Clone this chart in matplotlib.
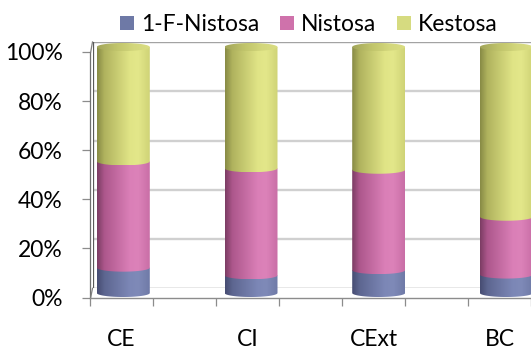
import numpy as np
import matplotlib
matplotlib.use("Agg")
import matplotlib.pyplot as plt
from matplotlib.colors import LinearSegmentedColormap
from matplotlib.path import Path
from matplotlib.patches import Patch
from matplotlib.lines import Line2D

# ---- data (percent of total per sample) ----
categories = ["CE", "CI", "CExt", "BC"]
series_names = ["1-F-Nistosa", "Nistosa", "Kestosa"]
fnistosa = [10.3, 7.2, 9.3, 7.5]
nistosa = [43.2, 43.5, 40.8, 23.5]
kestosa = [46.5, 49.3, 49.9, 69.0]
y_ticks = [0, 20, 40, 60, 80, 100]
y_labels = ["0%", "20%", "40%", "60%", "80%", "100%"]

# ---- styling ----
legend_colors = ["#6e79a6", "#cf72ab", "#d6db80"]
body_shades = [
    ["#464c72", "#5d6690", "#7c87b6", "#7f8ab8", "#6f7aa7"],
    ["#7b3c63", "#ad578c", "#da7fb7", "#dc82b9", "#c96ea6"],
    ["#878a45", "#b0b35e", "#e0e486", "#e3e78a", "#cfd376"],
]
top_shades = ["#a2a55a", "#bfc36a", "#d3d77c", "#dadd82"]
shade_stops = [0.0, 0.14, 0.62, 0.78, 1.0]

plt.rcParams["font.family"] = ["Lato", "DejaVu Sans"]
FS = 16.5

W, H = 531, 349
fig = plt.figure(figsize=(W / 100, H / 100), dpi=100)


def box(left, top, right, bottom):
    """Axes rectangle from pixel edges measured from the top-left corner."""
    return [left / W, 1 - bottom / H, (right - left) / W, (bottom - top) / H]


# ---- back wall with gridlines ----
axw = fig.add_axes(box(92.5, 42, 545, 288.3), zorder=0)
axw.set_xlim(0, 1)
axw.set_ylim(0, 100)
axw.axis("off")
for v in y_ticks[1:-1]:
    axw.axhline(v, color="#d0d0d0", lw=1.7)
axw.axhline(100, color="#a3a3a3", lw=1.0)
axw.axhline(0, color="#8c8c8c", lw=1.0)
axw.axvline(0, color="#5a5a5a", lw=0.9)

# side-wall edges joining the front axis to the back wall
for (xa, ya), (xb, yb) in [((90.7, 52.0), (92.5, 42.0)), ((90.7, 297.5), (92.5, 288.3))]:
    fig.add_artist(Line2D([xa / W, xb / W], [1 - ya / H, 1 - yb / H],
                          color="#7f7f7f", lw=0.9))

# ---- front axis: ticks and labels ----
axf = fig.add_axes(box(90, 52, 545, 297.5), zorder=1)
axf.patch.set_alpha(0)
for s in ("top", "right"):
    axf.spines[s].set_visible(False)
axf.spines["left"].set_color("#6f6f6f")
axf.spines["bottom"].set_color("#8c8c8c")
axf.spines["left"].set_linewidth(0.9)
axf.spines["bottom"].set_linewidth(1.0)
axf.set_yticks(y_ticks)
axf.set_yticklabels(y_labels, fontsize=FS)
axf.tick_params(axis="y", length=5.5, width=0.9, color="#8c8c8c", pad=14)
major = np.arange(-0.25, len(categories), 0.5)
axf.set_xticks(major)
axf.set_xticklabels([])
axf.tick_params(axis="x", which="major", length=6, width=0.9, color="#8c8c8c")
axf.set_xticks(np.arange(len(categories)), minor=True)
axf.set_xticklabels(categories, minor=True, fontsize=FS)
axf.tick_params(axis="x", which="minor", length=0, pad=23)
x_right = (545 - 90) / 126 - 0.25
axf.set_xlim(-0.25, x_right)
axf.set_ylim(0, 100)

# ---- cylinders ----
px_per_pct = (293 - 47) / 100
y_lo, y_hi = -5, 105
axb = fig.add_axes(box(59.45, 47 - 5 * px_per_pct, 570.25, 293 + 5 * px_per_pct), zorder=2)
axb.axis("off")
x = np.arange(len(categories))
width = 0.415
cap = 4.0 / px_per_pct  # half-height of the elliptical ends, in percent units
grad = np.linspace(0, 1, 256).reshape(1, -1)


def body_path(x0, x1, y0, y1):
    t = np.linspace(np.pi, 2 * np.pi, 48)
    cx, a = (x0 + x1) / 2, (x1 - x0) / 2
    arc = np.column_stack([cx + a * np.cos(t), y0 + cap * np.sin(t)])
    verts = [(x0, y1)] + arc.tolist() + [(x1, y1), (x0, y1)]
    codes = [Path.MOVETO] + [Path.LINETO] * (len(verts) - 2) + [Path.CLOSEPOLY]
    return Path(verts, codes)


def ellipse_path(x0, x1, yc):
    t = np.linspace(0, 2 * np.pi, 64)
    cx, a = (x0 + x1) / 2, (x1 - x0) / 2
    return Path(np.column_stack([cx + a * np.cos(t), yc + cap * np.sin(t)]), closed=True)


bottom = np.zeros(len(categories))
layers = [fnistosa, nistosa, kestosa]
for k, vals in enumerate(layers):
    vals = np.asarray(vals, dtype=float)
    bars = axb.bar(x, vals, width=width, bottom=bottom, color="none", edgecolor="none")
    cmap = LinearSegmentedColormap.from_list(
        f"shade{k}", list(zip(shade_stops, body_shades[k])))
    for rect in bars:
        x0 = rect.get_x()
        x1 = x0 + rect.get_width()
        y0 = rect.get_y()
        y1 = y0 + rect.get_height()
        im = axb.imshow(grad, cmap=cmap, extent=(x0, x1, y0 - cap, y1), aspect="auto",
                        interpolation="bilinear", origin="lower", zorder=3 + k)
        im.set_clip_path(body_path(x0, x1, y0, y1), axb.transData)
        if k == len(layers) - 1:
            top_cmap = LinearSegmentedColormap.from_list(
                "top", list(zip([0.0, 0.35, 0.7, 1.0], top_shades)))
            it = axb.imshow(grad, cmap=top_cmap, extent=(x0, x1, y1 - cap, y1 + cap),
                            aspect="auto", interpolation="bilinear", origin="lower",
                            zorder=10)
            it.set_clip_path(ellipse_path(x0, x1, y1), axb.transData)
    bottom = bottom + vals

axb.set_xlim(-0.5, 3.5)
axb.set_ylim(y_lo, y_hi)

# ---- legend ----
handles = [Patch(facecolor=c, edgecolor="none") for c in legend_colors]
fig.legend(handles, series_names, loc="center", bbox_to_anchor=(309 / W, 1 - 24.5 / H),
           ncol=3, frameon=False, fontsize=FS, handlelength=0.62, handleheight=0.62,
           handletextpad=0.3, columnspacing=0.9, borderpad=0)

fig.savefig("out.png", dpi=100)
